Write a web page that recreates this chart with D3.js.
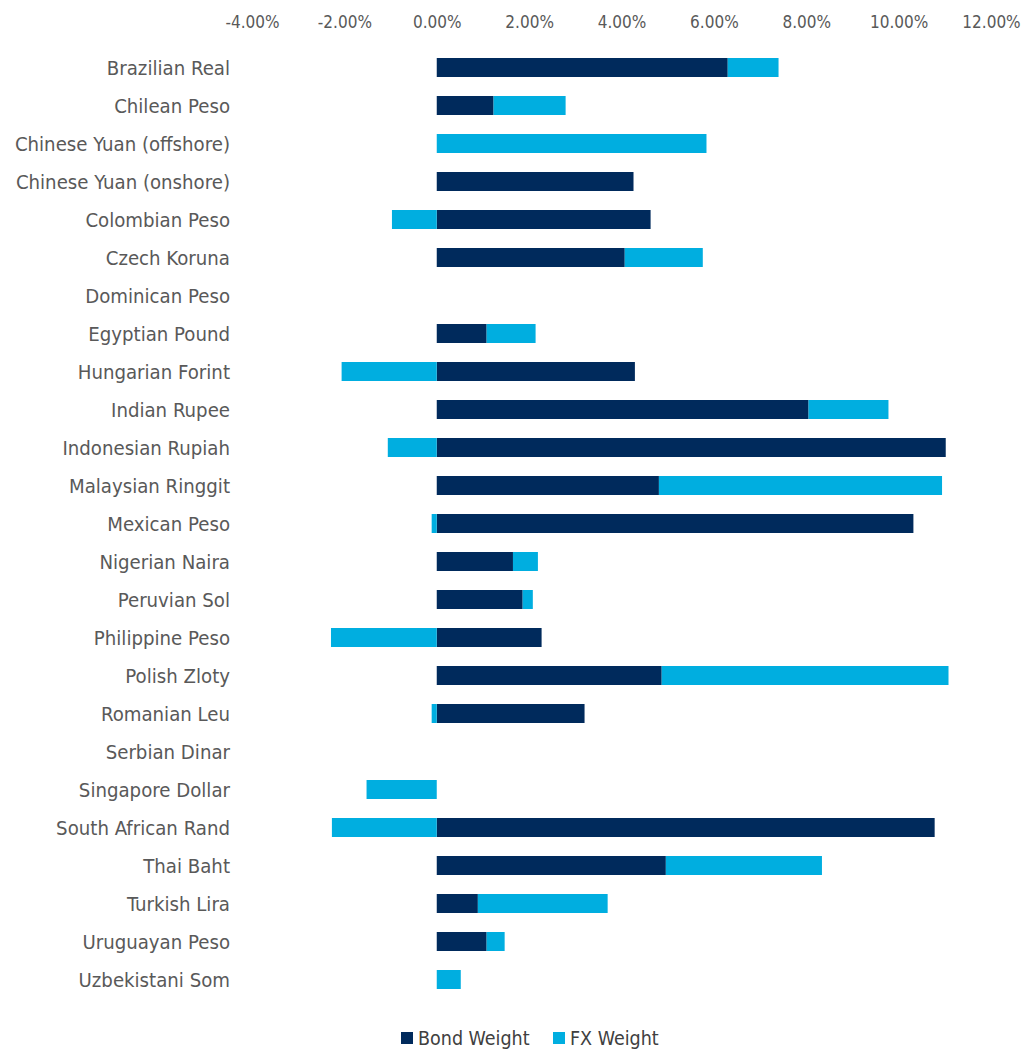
<!DOCTYPE html>
<html>
<head>
<meta charset="utf-8">
<script src="https://cdn.jsdelivr.net/npm/d3@7"></script>
<style>
  body { margin: 0; background: #fff; }
  text { font-family: "Liberation Sans Narrow", "DejaVu Sans Condensed", "Roboto", sans-serif; }
</style>
</head>
<body>
<div id="chart"></div>
<script>
var svgWidth = 1024;
var svgHeight = 1049;

// currencies, top to bottom
var currencies = ["Brazilian Real", "Chilean Peso", "Chinese Yuan (offshore)", "Chinese Yuan (onshore)",
  "Colombian Peso", "Czech Koruna", "Dominican Peso", "Egyptian Pound", "Hungarian Forint",
  "Indian Rupee", "Indonesian Rupiah", "Malaysian Ringgit", "Mexican Peso", "Nigerian Naira",
  "Peruvian Sol", "Philippine Peso", "Polish Zloty", "Romanian Leu", "Serbian Dinar",
  "Singapore Dollar", "South African Rand", "Thai Baht", "Turkish Lira", "Uruguayan Peso",
  "Uzbekistani Som"];

// weights in %
var bondWeight = [6.30, 1.23, 0, 4.26, 4.63, 4.07, 0, 1.08, 4.29, 8.05, 11.02, 4.81, 10.32, 1.65,
  1.86, 2.27, 4.87, 3.20, 0, 0, 10.78, 4.96, 0.89, 1.08, 0];
var fxWeight = [1.10, 1.56, 5.84, 0, -0.97, 1.69, 0, 1.06, -2.06, 1.73, -1.06, 6.13, -0.11, 0.54,
  0.22, -2.29, 6.21, -0.11, 0, -1.52, -2.27, 3.38, 2.81, 0.39, 0.52];

var xTicks = [-4, -2, 0, 2, 4, 6, 8, 10, 12];
var seriesNames = ["Bond Weight", "FX Weight"];
var colors = ["#002A5C", "#00AEE0"];

var svg = d3.select("#chart")
  .append("svg")
  .attr("width", svgWidth)
  .attr("height", svgHeight);

var x = d3.scaleLinear()
  .domain([-4, 12])
  .range([252, 991]);

var y = d3.scaleBand()
  .domain(currencies)
  .range([48.5, 998.5])
  .paddingInner(0.5)
  .paddingOuter(0.25);

var rows = currencies.map(function(c, i) {
  return { name: c, bond: bondWeight[i], fx: fxWeight[i] };
});

var stack = d3.stack()
  .keys(["bond", "fx"])
  .offset(d3.stackOffsetDiverging);
var layers = stack(rows);

// top axis labels only (plain hyphen for negatives)
var xAxis = svg.append("g")
  .attr("transform", "translate(0, 22)")
  .call(d3.axisTop(x).tickValues(xTicks).tickSize(0).tickPadding(0)
    .tickFormat(function(d) { return d.toFixed(2) + "%"; }));
xAxis.select(".domain").remove();
xAxis.selectAll("text")
  .attr("fill", "#595959")
  .attr("font-size", "17px")
  .attr("dy", "0.35em");

// category labels
var yAxis = svg.append("g")
  .attr("transform", "translate(230, 0)")
  .call(d3.axisLeft(y).tickSize(0).tickPadding(0));
yAxis.select(".domain").remove();
yAxis.selectAll("text")
  .attr("fill", "#595959")
  .attr("font-size", "20.2px")
  .attr("dy", "0.35em");

// bars
svg.append("g")
  .selectAll("g")
  .data(layers)
  .enter()
  .append("g")
  .attr("fill", function(d, i) { return colors[i]; })
  .selectAll("rect")
  .data(function(d) { return d; })
  .enter()
  .append("rect")
  .attr("x", function(d) { return x(Math.min(d[0], d[1])); })
  .attr("y", function(d) { return y(d.data.name); })
  .attr("width", function(d) { return Math.abs(x(d[1]) - x(d[0])); })
  .attr("height", y.bandwidth());

// legend
var legend = svg.append("g")
  .attr("transform", "translate(401, 1038)");
var legendX = [0, 152];
seriesNames.forEach(function(name, i) {
  var item = legend.append("g").attr("transform", "translate(" + legendX[i] + ", 0)");
  item.append("rect")
    .attr("x", 0).attr("y", -6)
    .attr("width", 12).attr("height", 12)
    .attr("fill", colors[i]);
  item.append("text")
    .attr("x", 17)
    .attr("y", 0)
    .attr("dy", "0.35em")
    .attr("font-size", "19.5px")
    .attr("fill", "#404040")
    .text(name);
});
</script>
</body>
</html>
